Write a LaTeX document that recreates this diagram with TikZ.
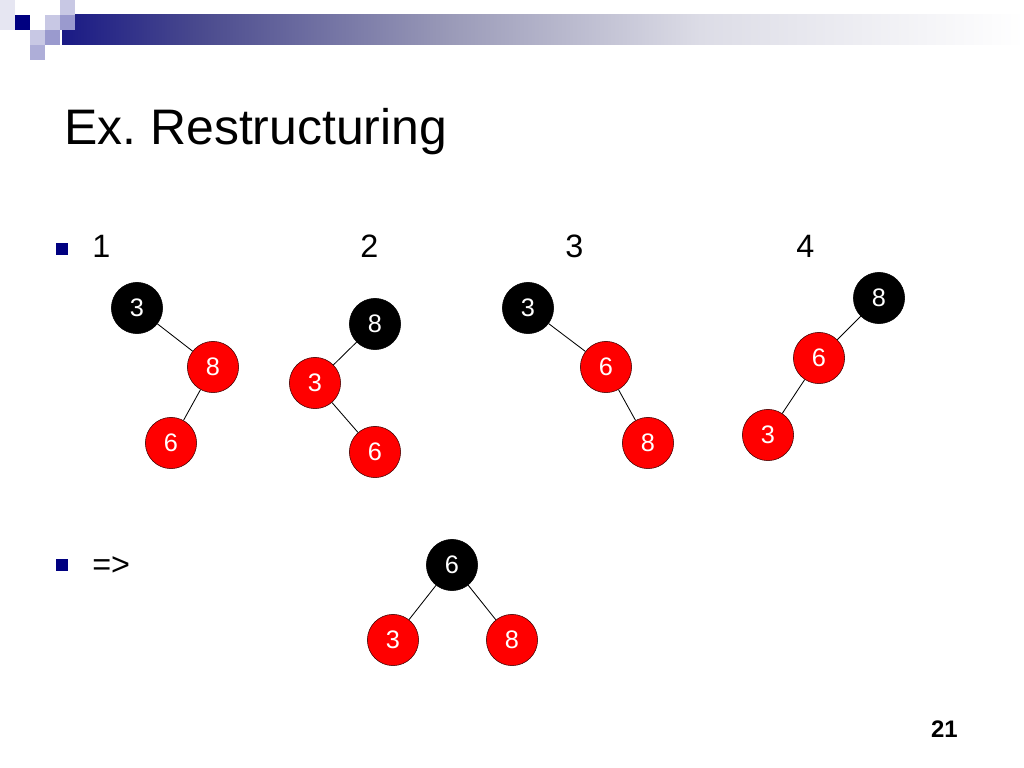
\documentclass[tikz,border=0pt]{standalone}
\usepackage{fontspec}
\setmainfont{Liberation Sans}
\definecolor{navy}{HTML}{000080}
\definecolor{barA}{HTML}{1A1A85}
\definecolor{barB}{HTML}{4A4A8E}
\definecolor{barC}{HTML}{9A9AB8}
\definecolor{barD}{HTML}{DCDCE6}
\definecolor{sqlight}{HTML}{C8C8E4}
\definecolor{sqmid}{HTML}{9A9ACE}
\definecolor{sqpale}{HTML}{E6E6F2}
\definecolor{nodered}{HTML}{FF0000}
\begin{document}
\begin{tikzpicture}[x=0.025cm,y=-0.025cm,
  blk/.style={circle,fill=black,draw=black,minimum size=1.28cm,inner sep=0pt,
    text=white,font=\fontsize{18}{20}\selectfont},
  rd/.style={blk,fill=nodered,draw=black!75!red},
  link/.style={line width=0.6pt},
  txt/.style={anchor=base west,inner sep=0pt,font=\fontsize{23}{27}\selectfont}]
  \useasboundingbox[fill=white] (0,0) rectangle (1024,768);
  % top band
  \fill[left color=barA,right color=barB] (62,15) rectangle (200,45);
  \fill[left color=barB,right color=barC] (199.5,15) rectangle (450,45);
  \fill[left color=barC,right color=barD] (449.5,15) rectangle (700,45);
  \fill[left color=barD,right color=white] (699.5,15) rectangle (1024,45);
  \fill[sqpale] (0,0) rectangle (15,30);
  \fill[navy] (15,15) rectangle (30,30);
  \fill[sqlight] (60,0) rectangle (75,15);
  \fill[sqlight] (45,15) rectangle (60,30);
  \fill[sqmid] (60,15) rectangle (75,30);
  \fill[sqlight] (30,30) rectangle (45,45);
  \fill[sqmid] (45,30) rectangle (60,45);
  \fill[sqmid!80!white] (30,45) rectangle (45,60);
  % title
  \node[anchor=base west,inner sep=0pt,font=\fontsize{35.5}{40}\selectfont] (title) at (64,145) {Ex.\ Restructuring};
  % bullets
  \fill[navy] (56,243) rectangle (68,255);
  \fill[navy] (56,559) rectangle (68,571);
  \node[txt] (l1) at (92,257) {1};
  \node[txt] (l2) at (360,257) {2};
  \node[txt] (l3) at (565,257) {3};
  \node[txt] (l4) at (796,257) {4};
  \node[txt] (arrow) at (92,575) {=>};
  % case 1
  \node[blk] (a3) at (137,308) {3};
  \node[rd] (a8) at (213,367) {8};
  \node[rd] (a6) at (171,443) {6};
  \draw[link] (a3) -- (a8);
  \draw[link] (a8) -- (a6);
  % case 2
  \node[blk] (b8) at (375,324) {8};
  \node[rd] (b3) at (315,383) {3};
  \node[rd] (b6) at (375,452) {6};
  \draw[link] (b8) -- (b3);
  \draw[link] (b3) -- (b6);
  % case 3
  \node[blk] (c3) at (528,308) {3};
  \node[rd] (c6) at (606,367) {6};
  \node[rd] (c8) at (648,443) {8};
  \draw[link] (c3) -- (c6);
  \draw[link] (c6) -- (c8);
  % case 4
  \node[blk] (d8) at (879,298) {8};
  \node[rd] (d6) at (819,358) {6};
  \node[rd] (d3) at (768,435) {3};
  \draw[link] (d8) -- (d6);
  \draw[link] (d6) -- (d3);
  % result
  \node[blk] (r6) at (452,565) {6};
  \node[rd] (r3) at (393,640) {3};
  \node[rd] (r8) at (512,640) {8};
  \draw[link] (r6) -- (r3);
  \draw[link] (r6) -- (r8);
  % page number
  \node[anchor=base east,inner sep=0pt,font=\fontsize{17}{19}\bfseries] (page) at (958,737) {21};
\end{tikzpicture}
\end{document}
